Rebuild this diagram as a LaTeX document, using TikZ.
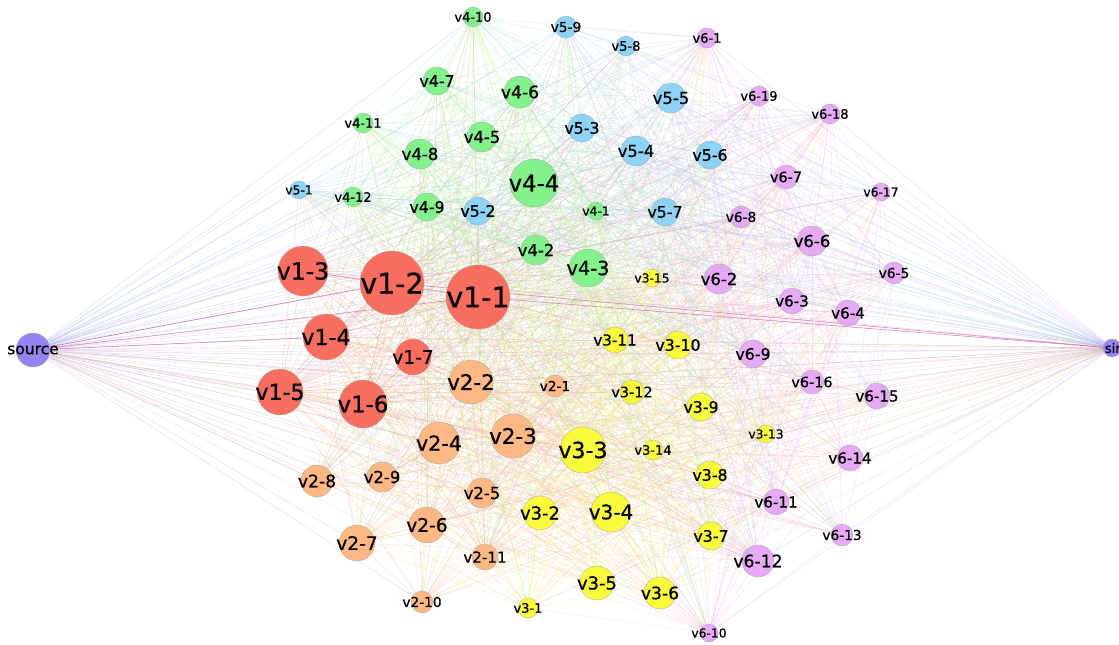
\documentclass[tikz,border=0pt]{standalone}
\usepackage{fontspec}
\setmainfont{DejaVu Sans}[FakeBold=0.7]
\usetikzlibrary{backgrounds}
\definecolor{cg1}{HTML}{FA6E5F}
\definecolor{cg2}{HTML}{FDB883}
\definecolor{cg3}{HTML}{FAFA3C}
\definecolor{cg4}{HTML}{84F28C}
\definecolor{cg5}{HTML}{8DD3F5}
\definecolor{cg6}{HTML}{E6AAF5}
\definecolor{cgS}{HTML}{9682F0}
\definecolor{strong}{RGB}{214,80,160}
\def\dataA{v1-1/478/297/32,v1-2/392/283/32,v1-3/303/271/25,v1-4/326/337/23,v1-5/280/392/23,v1-6/363/404/24,v1-7/413/357/18}
\def\dataB{v2-1/555/386/11,v2-2/471/382/22,v2-3/513/436/22,v2-4/439/443/21,v2-5/482/493/15,v2-6/427/525/18,v2-7/357/543/18,v2-8/317/481/16,v2-9/382/477/15,v2-10/422/602/11,v2-11/485/557/13}
\def\dataC{v3-1/528/608/10,v3-2/540/513/17,v3-3/583/450/23,v3-4/611/512/20,v3-5/597/583/17,v3-6/660/593/16,v3-7/711/536/14,v3-8/710/475/14,v3-9/701/407/14,v3-10/678/345/14,v3-11/615/340/13,v3-12/632/392/12,v3-13/766/434/9,v3-14/653/450/10,v3-15/652/278/9}
\def\dataD{v4-1/596/211/9,v4-2/536/250/15,v4-3/588/268/19,v4-4/534/183/24,v4-5/482/137/15,v4-6/520/92/16,v4-7/437/81/14,v4-8/420/154/15,v4-9/427/207/14,v4-10/473/17/10,v4-11/363/123/10,v4-12/353/197/10}
\def\dataE{v5-1/299/190/9,v5-2/478/211/14,v5-3/582/128/14,v5-4/636/151/15,v5-5/671/98/15,v5-6/710/155/14,v5-7/665/212/14,v5-8/626/46/10,v5-9/566/27/11}
\def\dataF{v6-1/707/38/10,v6-2/719/279/15,v6-3/792/301/13,v6-4/848/313/13,v6-5/894/273/11,v6-6/812/241/15,v6-7/786/177/12,v6-8/741/217/11,v6-9/753/354/14,v6-10/709/633/9,v6-11/776/502/13,v6-12/758/561/16,v6-13/842/535/11,v6-14/850/458/13,v6-15/877/396/13,v6-16/812/382/12,v6-17/881/192/9,v6-18/830/114/10,v6-19/759/96/10}
\def\grpname#1{\ifcase#1\or dataA\or dataB\or dataC\or dataD\or dataE\or dataF\fi}
\begin{document}
\begin{tikzpicture}[x=1pt,y=-1pt,
  nd/.style={circle,draw=black!35,line width=0.3pt,inner sep=0pt},
  lbl/.style={inner sep=0pt,text=black},
  lnk/.style={line width=0.45pt,draw opacity=0.36},
  hard/.style={line width=0.6pt,draw=strong,draw opacity=0.55}]
\useasboundingbox (0,0) rectangle (1119,645);
\clip (0,0) rectangle (1119,645);
% nodes
\node[nd,fill=cgS,minimum size=34pt] (source) at (33,350) {};
\node[nd,fill=cgS,minimum size=18pt] (sink) at (1112,348) {};
\foreach \g in {1,...,6}{
  \edef\lst{\csname\grpname{\g}\endcsname}
  \foreach \n/\x/\y/\r in \lst {
    \node[nd,fill=cg\g,minimum size=2*\r] (\n) at (\x,\y) {};
  }
}
% edges
\begin{scope}[on background layer]
\foreach \g in {1,...,6}{
  \edef\lst{\csname\grpname{\g}\endcsname}
  \foreach \n/\x/\y/\r in \lst {
    \draw[lnk,draw=cgS!55!cg\g] (source) -- (\n);
    \draw[lnk,draw=cg\g!55!cgS] (\n) -- (sink);
  }
}
\pgfmathsetseed{4242}
\foreach \i in {1,...,6}{
  \foreach \j in {\i,...,6}{
    \edef\la{\csname\grpname{\i}\endcsname}
    \edef\lb{\csname\grpname{\j}\endcsname}
    \foreach \a/\ax/\ay/\ar [count=\ka] in \la {
      \foreach \b/\bx/\by/\br [count=\kb] in \lb {
        \pgfmathtruncatemacro\keep{((rnd<0.45)&&((\i<\j)||(\kb>\ka)))?1:0}
        \ifnum\keep=1
          \draw[lnk,draw=cg\i!50!cg\j] (\a) -- (\b);
        \fi
      }
    }
  }
}
\draw[hard] (source) -- (v1-1);
\draw[hard] (source) -- (v1-2);
\draw[hard] (source) -- (v1-4);
\draw[hard] (v1-1) -- (sink);
\draw[hard] (v1-3) -- (v1-1);
\draw[hard] (v1-2) -- (sink);
\end{scope}
% labels
\node[lbl,font=\fontsize{15.5}{15.5}\selectfont] (source-t) at (source) {source};
\node[lbl,font=\fontsize{13}{13}\selectfont] (sink-t) at (1118,348) {sink};
\foreach \g in {1,...,6}{
  \edef\lst{\csname\grpname{\g}\endcsname}
  \foreach \n/\x/\y/\r in \lst {
    \pgfmathsetmacro\fs{0.7*\r+6}
    \node[lbl,font=\fontsize{\fs}{\fs}\selectfont] (\n-t) at (\n) {\n};
  }
}
\end{tikzpicture}
\end{document}
